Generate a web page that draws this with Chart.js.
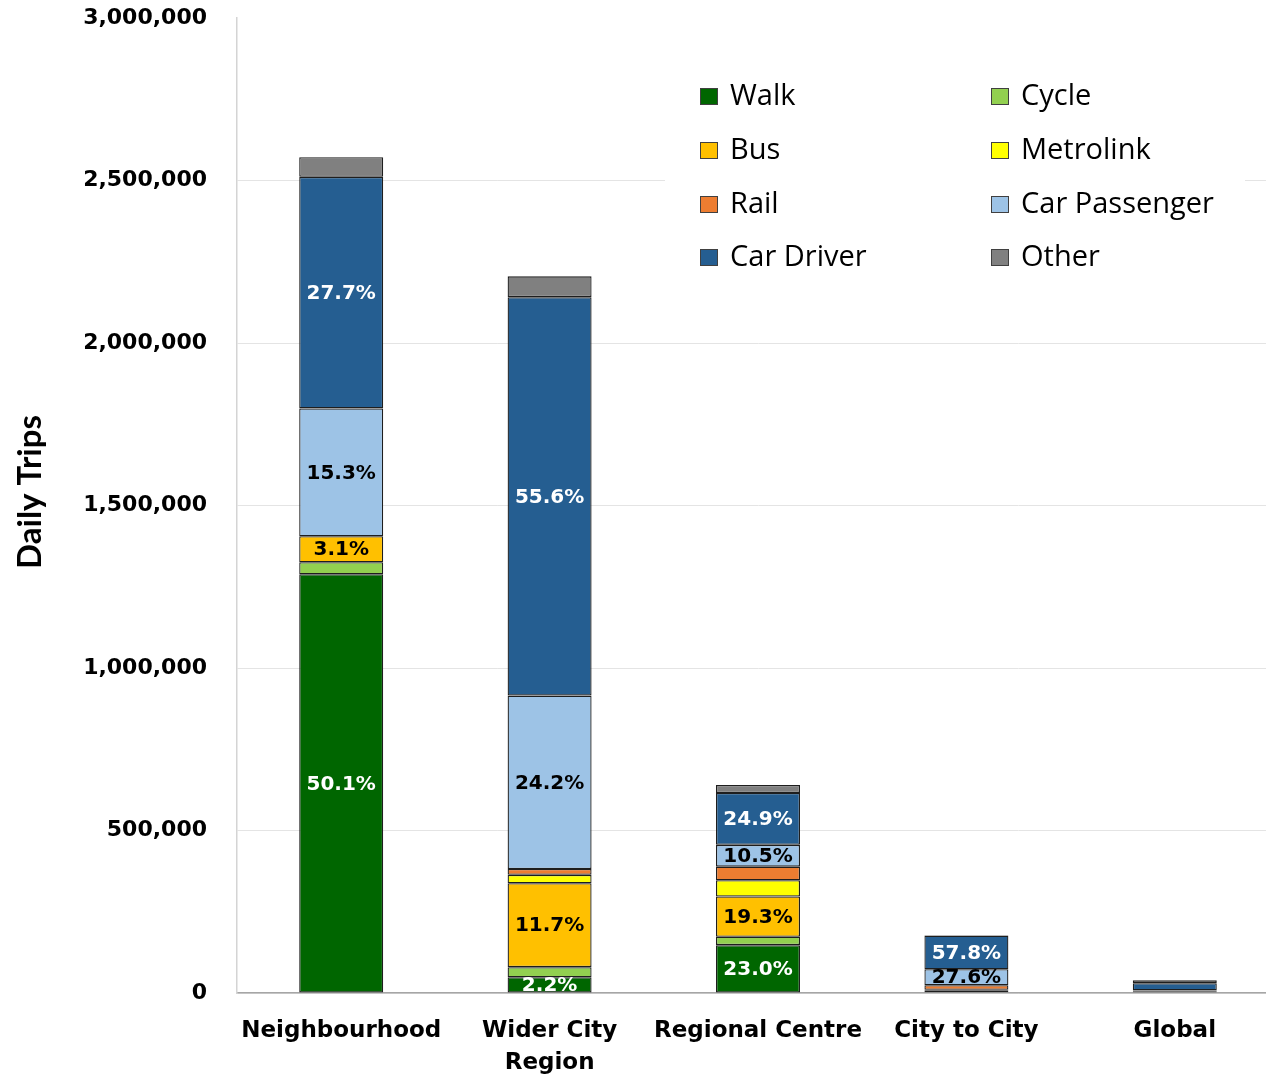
<!DOCTYPE html>
<html>
<head>
<meta charset="utf-8">
<script src="https://cdn.jsdelivr.net/npm/chart.js@4"></script>
<style>
  html, body { margin: 0; padding: 0; background: #fff; }
  /* plot runs a little past the right edge, so the canvas is wider than the frame */
  #wrap { width: 1266px; height: 1074px; overflow: hidden; }
</style>
</head>
<body>
<div id="wrap"><canvas id="tripsChart" width="1279" height="1074"></canvas></div>
<script>
// daily trips by trip distance band, split by mode
var categories = ['Neighbourhood', ['Wider City', 'Region'], 'Regional Centre', 'City to City', 'Global'];

var walk         = [1288600,   48500, 147200,   2000,  1500];
var cycle        = [  37000,   31000,  26000,   1000,   500];
var bus          = [  79700,  258000, 123500,   4000,  1000];
var metrolink    = [      0,   26000,  50000,   3000,     0];
var rail         = [      0,   18000,  42000,  14000,  1000];
var carPassenger = [ 393500,  533600,  67200,  49100,  4000];
var carDriver    = [ 712400, 1226000, 159400, 102900, 22000];
var other        = [  60700,   64000,  24700,   2000,  9000];

// percentage labels written on the segments
var walkLabels         = ['50.1%', '2.2%', '23.0%', null, null];
var busLabels          = ['3.1%', '11.7%', '19.3%', null, null];
var carPassengerLabels = ['15.3%', '24.2%', '10.5%', '27.6%', null];
var carDriverLabels    = ['27.7%', '55.6%', '24.9%', '57.8%', null];

var yTicks = [0, 500000, 1000000, 1500000, 2000000, 2500000, 3000000];

function series(label, data, color, labels, labelColor) {
    return {
        label: label,
        data: data,
        backgroundColor: color,
        borderColor: '#1e1e1e',
        borderWidth: 1.3,
        borderSkipped: false,
        segLabels: labels || null,
        segLabelColor: labelColor || '#000',
        stack: 'trips'
    };
}

var datasets = [
    series('Walk', walk, '#006600', walkLabels, '#ffffff'),
    series('Cycle', cycle, '#92d050'),
    series('Bus', bus, '#ffc000', busLabels, '#000000'),
    series('Metrolink', metrolink, '#ffff00'),
    series('Rail', rail, '#ed7d31'),
    series('Car Passenger', carPassenger, '#9dc3e6', carPassengerLabels, '#000000'),
    series('Car Driver', carDriver, '#255e91', carDriverLabels, '#ffffff'),
    series('Other', other, '#808080')
];

// text in the middle of each labelled segment
var segmentLabels = {
    id: 'segmentLabels',
    afterDatasetsDraw: function(chart) {
        var ctx = chart.ctx;
        var area = chart.chartArea;
        ctx.save();
        ctx.beginPath();
        ctx.rect(area.left, area.top, area.right - area.left, area.bottom - area.top);
        ctx.clip();
        ctx.font = 'bold 20px "DejaVu Sans"';
        ctx.textAlign = 'center';
        ctx.textBaseline = 'middle';
        chart.data.datasets.forEach(function(ds, i) {
            if (!ds.segLabels) return;
            var meta = chart.getDatasetMeta(i);
            meta.data.forEach(function(bar, j) {
                var txt = ds.segLabels[j];
                if (!txt) return;
                ctx.fillStyle = ds.segLabelColor;
                ctx.fillText(txt, bar.x, (bar.y + bar.base) / 2 + 1);
            });
        });
        ctx.restore();
    }
};

// two-column key sitting inside the plot, top right
var boxLegend = {
    id: 'boxLegend',
    afterDatasetsDraw: function(chart) {
        var ctx = chart.ctx;
        ctx.save();
        ctx.fillStyle = '#ffffff';
        ctx.fillRect(665, 60, 580, 225);
        ctx.font = '29px "Open Sans"';
        ctx.textBaseline = 'middle';
        ctx.textAlign = 'left';
        var cols = [700, 991];
        var rows = [96, 150, 204, 257];
        chart.data.datasets.forEach(function(ds, i) {
            var x = cols[i % 2];
            var y = rows[Math.floor(i / 2)];
            ctx.fillStyle = ds.backgroundColor;
            ctx.fillRect(x, y - 8, 18, 17);
            ctx.strokeStyle = '#404040';
            ctx.lineWidth = 1;
            ctx.strokeRect(x + 0.5, y - 7.5, 17, 16);
            ctx.fillStyle = '#000';
            ctx.fillText(ds.label, x + 30, y + 1);
        });
        ctx.restore();
    }
};

// rotated axis title, placed by hand a bit above the plot's middle
var axisTitle = {
    id: 'axisTitle',
    afterDraw: function(chart) {
        var ctx = chart.ctx;
        ctx.save();
        ctx.translate(30, 492);
        ctx.rotate(-Math.PI / 2);
        ctx.font = 'bold 33px Lato';
        ctx.fillStyle = '#000';
        ctx.textAlign = 'center';
        ctx.textBaseline = 'middle';
        ctx.fillText('Daily Trips', 0, 0);
        ctx.restore();
    }
};

var ctx = document.getElementById('tripsChart').getContext('2d');
var chart = new Chart(ctx, {
    type: 'bar',
    data: { labels: categories, datasets: datasets },
    options: {
        responsive: false,
        animation: false,
        layout: { padding: { top: 18, right: 0, left: 0, bottom: 0 } },
        plugins: {
            legend: { display: false },
            tooltip: { enabled: false }
        },
        datasets: {
            bar: { categoryPercentage: 1, barPercentage: 0.403 }
        },
        scales: {
            x: {
                stacked: true,
                grid: { display: false, drawTicks: false },
                border: { display: true, color: '#a6a6a6', width: 1.5 },
                ticks: {
                    color: '#000',
                    padding: 22,
                    maxRotation: 0,
                    autoSkip: false,
                    font: { family: 'DejaVu Sans', weight: 'bold', size: 23, lineHeight: 1.4 }
                },
                afterFit: function(scale) {
                    scale.height = 81;
                    scale.paddingLeft = 0;
                    scale.paddingRight = 0;
                }
            },
            y: {
                stacked: true,
                min: 0,
                max: 3000000,
                afterBuildTicks: function(scale) {
                    scale.ticks = yTicks.map(function(v) { return { value: v }; });
                },
                grid: {
                    drawTicks: false,
                    color: function(c) {
                        return c.tick && c.tick.value === 3000000 ? 'rgba(0,0,0,0)' : '#e4e4e4';
                    },
                    lineWidth: 1
                },
                border: { display: true, color: '#d4d4d4', width: 1.5 },
                ticks: {
                    color: '#000',
                    padding: 30,
                    font: { family: 'DejaVu Sans', weight: 'bold', size: 22 },
                    callback: function(v) { return Number(v).toLocaleString('en-US'); }
                },
                afterFit: function(scale) {
                    scale.width = 237;
                    scale.paddingTop = 0;
                    scale.paddingBottom = 0;
                }
            }
        }
    },
    plugins: [segmentLabels, boxLegend, axisTitle]
});
</script>
</body>
</html>
